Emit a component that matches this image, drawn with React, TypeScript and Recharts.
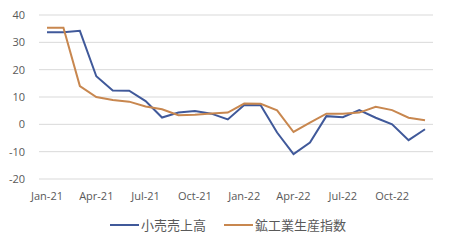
import React from "react";
import { LineChart, Line, XAxis, YAxis, CartesianGrid, Legend } from "recharts";

const months = [
  "Jan-21", "Feb-21", "Mar-21", "Apr-21", "May-21", "Jun-21",
  "Jul-21", "Aug-21", "Sep-21", "Oct-21", "Nov-21", "Dec-21",
  "Jan-22", "Feb-22", "Mar-22", "Apr-22", "May-22", "Jun-22",
  "Jul-22", "Aug-22", "Sep-22", "Oct-22", "Nov-22", "Dec-22",
];

const retailSales = [
  33.7, 33.7, 34.2, 17.6, 12.4, 12.3, 8.5, 2.5, 4.3, 4.9, 3.9, 1.8,
  7.1, 7.0, -3.0, -10.9, -6.7, 3.0, 2.6, 5.2, 2.4, 0.0, -5.8, -1.8,
];

const industrialProduction = [
  35.3, 35.3, 14.0, 10.0, 8.9, 8.3, 6.5, 5.5, 3.3, 3.5, 4.0, 4.3,
  7.6, 7.5, 5.1, -2.8, 0.6, 3.9, 3.9, 4.3, 6.4, 5.2, 2.4, 1.5,
];

const yTicks = [-20, -10, 0, 10, 20, 30, 40];

const seriesNames = ["小売売上高", "鉱工業生産指数"];
const seriesColors = ["#40599a", "#c8874f"];

const data = months.map((m, i) => ({
  month: m,
  retail: retailSales[i],
  industry: industrialProduction[i],
}));

const tickFont = { fontFamily: "'Open Sans', sans-serif", fontSize: 11, fill: "#595959" };

const LegendContent = () => (
  <div style={{ position: "relative", height: 32, width: 433 }}>
    {seriesNames.map((name, i) => {
      const left = i === 0 ? 110 : 224;
      return (
        <div
          key={name}
          style={{
            position: "absolute",
            left,
            top: 7,
            height: 18,
            display: "flex",
            alignItems: "center",
            whiteSpace: "nowrap",
          }}
        >
          <div style={{ width: 29, height: 2, background: seriesColors[i], marginRight: 2 }} />
          <span
            style={{
              fontFamily: "'Noto Sans CJK JP', sans-serif",
              fontSize: 13,
              color: "#595959",
              lineHeight: "18px",
            }}
          >
            {name}
          </span>
        </div>
      );
    })}
  </div>
);

export default function App() {
  return (
    <div style={{ position: "absolute", left: 0, top: 0, width: 450, height: 246, background: "#fff" }}>
      <LineChart
        width={450}
        height={246}
        data={data}
        margin={{ top: 15, right: 17, left: 0, bottom: 5 }}
      >
        <CartesianGrid horizontal={true} vertical={false} stroke="#d9d9d9" strokeWidth={1} />
        <XAxis
          dataKey="month"
          interval={2}
          axisLine={false}
          tickLine={false}
          tickSize={0}
          tickMargin={13}
          height={30}
          padding={{ left: 8, right: 8 }}
          tick={tickFont}
        />
        <YAxis
          domain={[-20, 40]}
          ticks={yTicks}
          axisLine={false}
          tickLine={false}
          tickSize={0}
          tickMargin={14}
          width={39}
          tick={tickFont}
        />
        <Legend verticalAlign="bottom" content={<LegendContent />} />
        <Line
          type="linear"
          dataKey="retail"
          name={seriesNames[0]}
          stroke={seriesColors[0]}
          strokeWidth={2}
          dot={false}
          isAnimationActive={false}
        />
        <Line
          type="linear"
          dataKey="industry"
          name={seriesNames[1]}
          stroke={seriesColors[1]}
          strokeWidth={2}
          dot={false}
          isAnimationActive={false}
        />
      </LineChart>
    </div>
  );
}
